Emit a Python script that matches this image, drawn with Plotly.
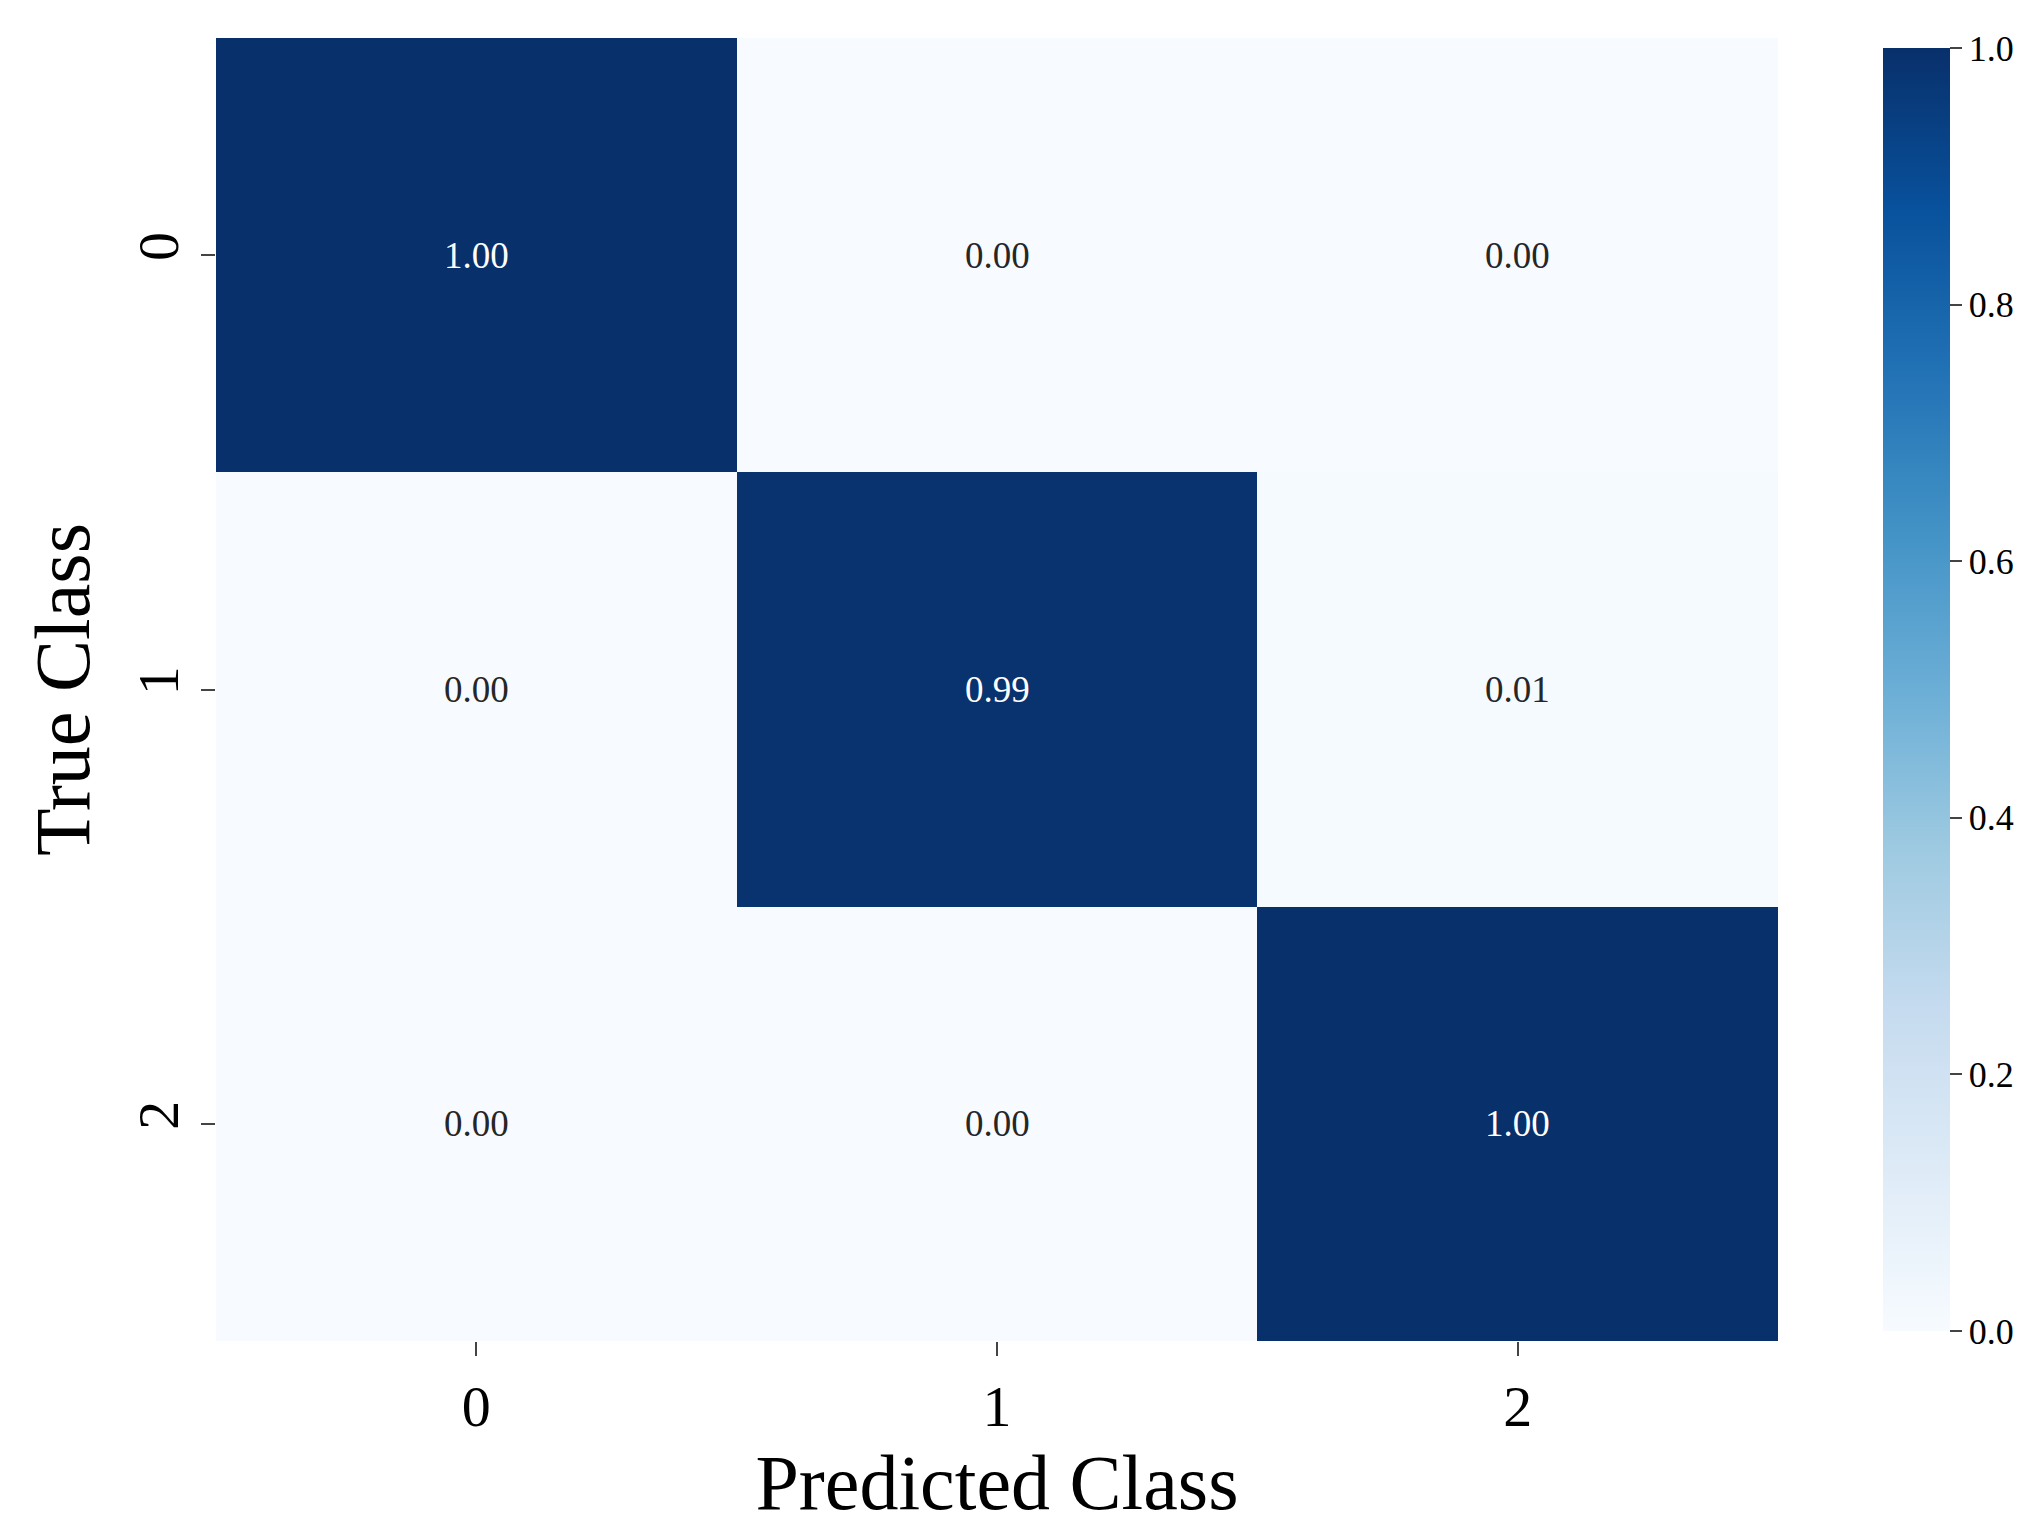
import plotly.graph_objects as go

classes = ["0", "1", "2"]
matrix = [[1.00, 0.00, 0.00],
          [0.00, 0.99, 0.01],
          [0.00, 0.00, 1.00]]
cbar_ticks = [0.0, 0.2, 0.4, 0.6, 0.8, 1.0]

font = "Liberation Serif"
fig = go.Figure(go.Heatmap(
    z=matrix, x=classes, y=classes, colorscale="Blues", zmin=0, zmax=1,
    xgap=0, ygap=0,
    colorbar=dict(x=1.0608, xanchor="left", thickness=67, len=1, lenmode="fraction",
                  y=0.5, yanchor="middle", outlinewidth=0,
                  tickvals=cbar_ticks, ticktext=[f"{v:.1f}" for v in cbar_ticks],
                  ticks="outside", ticklen=12, tickwidth=2,
                  tickfont=dict(family=font, size=36, color="black")),
))
for i, row in enumerate(matrix):
    for j, v in enumerate(row):
        fig.add_annotation(x=classes[j], y=classes[i], text=f"{v:.2f}", showarrow=False,
                           font=dict(family=font, size=37, color="white" if v > 0.5 else "#262626"))
fig.update_layout(
    width=2041, height=1533, margin=dict(l=208, r=271, t=30, b=200),
    plot_bgcolor="white", paper_bgcolor="white",
    xaxis=dict(title=dict(text="Predicted Class", font=dict(family=font, size=78, color="black"), standoff=10),
               tickfont=dict(family=font, size=58, color="black"), ticks="outside", ticklen=14, tickwidth=2,
               showgrid=False, zeroline=False),
    yaxis=dict(title=dict(text="True Class", font=dict(family=font, size=78, color="black"), standoff=10),
               tickfont=dict(family=font, size=58, color="black"), ticks="outside", ticklen=14, tickwidth=2,
               tickangle=-90, autorange="reversed", showgrid=False, zeroline=False),
)
fig.write_html("out.html")
